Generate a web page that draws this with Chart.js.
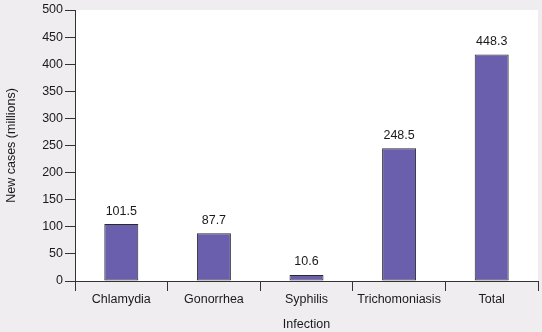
<!DOCTYPE html>
<html>
<head>
<meta charset="utf-8">
<script src="https://cdn.jsdelivr.net/npm/chart.js@4/dist/chart.umd.min.js"></script>
<style>
  html, body { margin: 0; padding: 0; background: #efedf0; }
  #wrap { width: 542px; height: 332px; }
</style>
</head>
<body>
<div id="wrap"><canvas id="stiChart" width="542" height="332"></canvas></div>
<script>
const categories  = ['Chlamydia', 'Gonorrhea', 'Syphilis', 'Trichomoniasis', 'Total'];
const barHeights  = [105, 88, 11, 245, 418];
const valueLabels = ['101.5', '87.7', '10.6', '248.5', '448.3'];
const yTicks      = [0, 50, 100, 150, 200, 250, 300, 350, 400, 450, 500];

const INK = '#1a1a1a';
const FONT = "'Liberation Sans', Arial, sans-serif";
const FSIZE = 12.5;

// white plot area behind bars
const plotBg = {
  id: 'plotBg',
  beforeDraw(chart) {
    const { ctx, chartArea: a } = chart;
    ctx.save();
    ctx.fillStyle = '#ffffff';
    ctx.fillRect(a.left, a.top, a.right - a.left, a.bottom - a.top);
    ctx.restore();
  },
};

// numbers above each bar
const barValues = {
  id: 'barValues',
  afterDatasetsDraw(chart) {
    const { ctx } = chart;
    const meta = chart.getDatasetMeta(0);
    ctx.save();
    ctx.fillStyle = INK;
    ctx.font = FSIZE + 'px ' + FONT;
    ctx.textAlign = 'center';
    ctx.textBaseline = 'middle';
    meta.data.forEach((bar, i) => {
      ctx.fillText(valueLabels[i], bar.x, bar.y - 13);
    });
    ctx.restore();
  },
};

new Chart(document.getElementById('stiChart'), {
  type: 'bar',
  data: {
    labels: categories,
    datasets: [{
      data: barHeights,
      backgroundColor: '#6a5fad',
      borderColor: '#2a2a2a',
      borderWidth: 1,
      borderSkipped: false,
      barPercentage: 0.367,
      categoryPercentage: 1,
    }],
  },
  options: {
    responsive: false,
    animation: false,
    events: [],
    layout: { padding: { top: 10, right: 4, left: 0, bottom: 0 } },
    plugins: { legend: { display: false }, tooltip: { enabled: false } },
    scales: {
      x: {
        offset: true,
        grid: { display: true, drawOnChartArea: false, offset: true, tickLength: 10, color: '#333333' },
        border: { display: true, color: '#333333' },
        ticks: { color: INK, font: { family: FONT, size: FSIZE }, padding: 1, maxRotation: 0, autoSkip: false },
        title: { display: true, text: 'Infection', color: INK, font: { family: FONT, size: FSIZE }, padding: { top: 3, bottom: 0 } },
        afterFit(scale) { scale.height = 51; },
      },
      y: {
        min: 0,
        max: 500,
        afterBuildTicks(scale) { scale.ticks = yTicks.map(v => ({ value: v })); },
        grid: { display: true, drawOnChartArea: false, tickLength: 10, color: '#333333' },
        border: { display: true, color: '#333333' },
        ticks: { color: INK, font: { family: FONT, size: FSIZE }, padding: 2 },
        title: { display: true, text: 'New cases (millions)', color: INK, font: { family: FONT, size: FSIZE }, padding: { top: 4, bottom: 0 } },
        afterFit(scale) { scale.width = 75; },
      },
    },
  },
  plugins: [plotBg, barValues],
});
</script>
</body>
</html>
